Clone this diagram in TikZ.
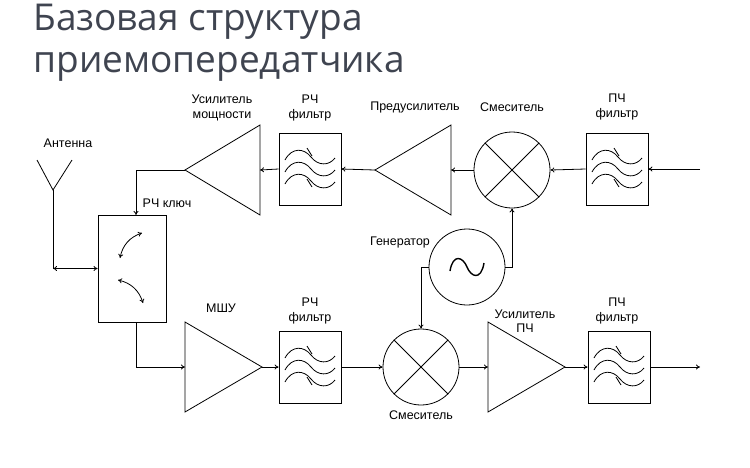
\documentclass[tikz,border=0pt]{standalone}
\usepackage{fontspec}
\setmainfont{Liberation Sans}
\newfontfamily\titlefont{Open Sans}
\usetikzlibrary{arrows.meta,calc}
\definecolor{titlegray}{HTML}{3F4450}
\begin{document}
\begin{tikzpicture}[x=1pt,y=-1pt,line width=0.8pt,
  arr/.style={-{To[length=4pt,width=5pt]}},
  darr/.style={{To[length=4pt,width=5pt]}-{To[length=4pt,width=5pt]}},
  fbox/.style={draw,minimum width=62pt,minimum height=72pt,inner sep=0pt},
  mixc/.style={draw,circle,minimum size=76pt,inner sep=0pt},
  lbl/.style={font=\fontsize{12.5}{14.5}\selectfont,align=center,inner sep=0pt}]
\useasboundingbox (0,0) rectangle (750,467);
\node[anchor=north west,inner sep=0pt,text=titlegray,font=\titlefont\fontsize{37}{42}\selectfont,align=left] (title) at (33,4) {Базовая структура\\приемопередатчика};

\newcommand\filtdeco[1]{%
 \begin{scope}[shift={(#1.center)}]
  \foreach \yy in {-12,0,12}{\draw (-25,\yy+3) .. controls (-18,\yy-10) and (-6,\yy-9) .. (1,\yy) .. controls (8,\yy+9) and (19,\yy+9) .. (25,\yy+1);}
  \draw (-3,-21) -- (2,-13);
  \draw (-3,10) -- (2,18);
 \end{scope}}
\newcommand\mixdeco[1]{\draw (#1.45) -- (#1.225); \draw (#1.135) -- (#1.315);}

% top row
\node[fbox] (ift) at (617,169) {};
\filtdeco{ift}
\node[mixc] (mxt) at (512,170) {};
\mixdeco{mxt}
\draw (451,125) -- (451,215) -- (375,170) -- cycle;
\coordinate (pre) at (375,170); \coordinate (prein) at (451,170);
\node[fbox] (rft) at (310,169) {};
\filtdeco{rft}
\draw (260,125) -- (260,215) -- (185,170) -- cycle;
\coordinate (pa) at (185,170); \coordinate (pain) at (260,170);
\coordinate (inp) at (700,169);
\draw[arr] (inp) -- (ift.east);
\draw[arr] (ift.west) -- (mxt.east);
\draw[arr] (mxt.west) -- (prein);
\draw[arr] (pre) -- (rft.east);
\draw[arr] (rft.west) -- (pain);

% switch and antenna
\node[draw,minimum width=68pt,minimum height=107pt,inner sep=0pt] (sw) at (132,268.5) {};
\coordinate (swt) at (136,215); \coordinate (swb) at (136,322);
\draw[arr] (pa) -- (136,170) -- (swt);
\coordinate (ant) at (53,190);
\draw (37,160) -- (ant) -- (72,160);
\coordinate (antb) at (53,268.5);
\draw (ant) -- (antb);
\draw[darr] (antb) -- (sw.west);
\draw[darr] (120,258) to[bend left=30] (142,233);
\draw[darr] (118,280) to[bend left=30] (143,303);

% bottom row
\draw (185,322) -- (185,412) -- (262,367) -- cycle;
\coordinate (lnain) at (185,367); \coordinate (lna) at (262,367);
\draw[arr] (swb) -- (136,367) -- (lnain);
\node[fbox] (rfb) at (310,367) {};
\filtdeco{rfb}
\node[mixc] (mxb) at (421,367) {};
\mixdeco{mxb}
\draw (488,322) -- (488,412) -- (565,367) -- cycle;
\coordinate (ifain) at (488,367); \coordinate (ifa) at (565,367);
\node[fbox] (ifb) at (619,367) {};
\filtdeco{ifb}
\coordinate (outp) at (700,367);
\draw[arr] (lna) -- (rfb.west);
\draw[arr] (rfb.east) -- (mxb.west);
\draw[arr] (mxb.east) -- (ifain);
\draw[arr] (ifa) -- (ifb.west);
\draw[arr] (ifb.east) -- (outp);

% generator
\node[mixc] (gen) at (467,267) {};
\draw[line width=1.4pt] ($(gen.center)+(-17,4)$) .. controls ($(gen.center)+(-14,-14)$) and ($(gen.center)+(-4,-10)$) .. (gen.center) .. controls ($(gen.center)+(4,10)$) and ($(gen.center)+(14,14)$) .. ($(gen.center)+(17,-4)$);
\draw[arr] (gen.east) -- (512,267) -- (mxt.south);
\draw[arr] (gen.west) -- (421,267) -- (mxb.north);

% labels
\node[lbl] (l1) at (222,108) {Усилитель\\мощности};
\node[lbl] (l2) at (310,108) {РЧ\\фильтр};
\node[lbl] (l3) at (415,107) {Предусилитель};
\node[lbl] (l4) at (512,107) {Смеситель};
\node[lbl] (l5) at (617,107) {ПЧ\\фильтр};
\node[lbl] (l6) at (68,143) {Антенна};
\node[lbl] (l7) at (167,203) {РЧ ключ};
\node[lbl] (l8) at (400,242) {Генератор};
\node[lbl] (l9) at (221,308) {МШУ};
\node[lbl] (l10) at (310,311) {РЧ\\фильтр};
\node[lbl] (l11) at (525,321) {Усилитель\\ПЧ};
\node[lbl] (l12) at (617,311) {ПЧ\\фильтр};
\node[lbl] (l13) at (421,415) {Смеситель};
\end{tikzpicture}
\end{document}
